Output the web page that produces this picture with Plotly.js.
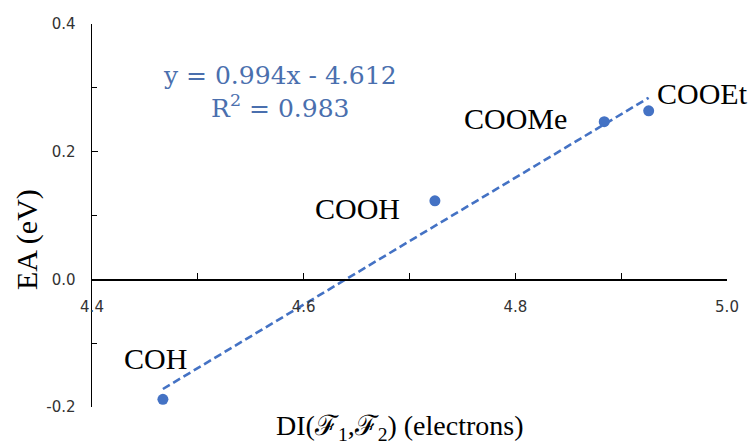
<!DOCTYPE html>
<html>
<head>
<meta charset="utf-8">
<script src="https://cdn.plot.ly/plotly-3.0.1.min.js"></script>
<style>
  html, body { margin: 0; padding: 0; background: #ffffff; }
  #chart { width: 755px; height: 448px; }
</style>
</head>
<body>
<div id="chart"></div>
<script>
// Delocalization index vs. electron affinity for each substituent
const groups = ['COH', 'COOH', 'COOMe', 'COOEt'];
const diValues = [4.467, 4.724, 4.884, 4.926];
const eaValues = [-0.188, 0.123, 0.247, 0.264];

// Linear fit reported on the chart
const fitSlope = 0.994;
const fitIntercept = -4.612;
const fitR2 = 0.983;

// Axis tick labels
const xTickVals = [4.4, 4.6, 4.8, 5.0];
const xTickText = ['4.4', '4.6', '4.8', '5.0'];
const yTickVals = [-0.2, 0.0, 0.2, 0.4];
const yTickText = ['-0.2', '0.0', '0.2', '0.4'];

const blue = '#4472C4';
const serif = '"Liberation Serif", "Times New Roman", serif';

const xMin = Math.min(...diValues);
const xMax = Math.max(...diValues);
const fitX = [xMin, xMax];
const fitY = fitX.map(v => fitSlope * v + fitIntercept);

const points = {
  x: diValues, y: eaValues, type: 'scatter', mode: 'markers',
  marker: { color: blue, size: 11 },
  hoverinfo: 'skip', showlegend: false
};
const trend = {
  x: fitX, y: fitY, type: 'scatter', mode: 'lines',
  line: { color: blue, width: 2.6, dash: '8px,4px' },
  hoverinfo: 'skip', showlegend: false
};

// Label offsets (pixels) relative to each point
const labelShift = {
  COH: [-7, 41], COOH: [-77, -8], COOMe: [-89, 3], COOEt: [54, 17]
};

const annotations = groups.map((g, i) => ({
  x: diValues[i], y: eaValues[i], xref: 'x', yref: 'y',
  text: g, showarrow: false,
  xanchor: 'center', yanchor: 'middle',
  xshift: labelShift[g][0], yshift: labelShift[g][1],
  font: { family: serif, size: 30, color: '#000000' }
}));

annotations.push({
  x: 4.578, y: 0.294, xref: 'x', yref: 'y',
  xanchor: 'center', yanchor: 'middle',
  text: 'y = ' + fitSlope.toFixed(3) + 'x - ' + Math.abs(fitIntercept).toFixed(3) +
        '<br>R<sup>2</sup> = ' + fitR2.toFixed(3),
  showarrow: false, align: 'center',
  font: { family: '"DejaVu Serif", serif', size: 25, color: '#4A6FAE' }
});

annotations.push({
  x: 27, y: 240, xref: 'paper', yref: 'paper',
  xanchor: 'center', yanchor: 'middle',
  text: 'EA (eV)', showarrow: false, textangle: -90,
  font: { family: serif, size: 30, color: '#000000' }
});
annotations.push({
  x: 400, y: 427, xref: 'paper', yref: 'paper',
  xanchor: 'center', yanchor: 'middle',
  text: 'DI(\u2131<sub>1</sub>,\u2131<sub>2</sub>) (electrons)', showarrow: false,
  font: { family: serif, size: 28, color: '#000000' }
});

const margin = { l: 92, r: 28, t: 24, b: 41 };
const plotW = 755 - margin.l - margin.r;
const plotH = 448 - margin.t - margin.b;
// convert pixel positions of the axis titles into paper coordinates
annotations.forEach(a => {
  if (a.xref === 'paper') {
    a.x = (a.x - margin.l) / plotW;
    a.y = 1 - (a.y - margin.t) / plotH;
  }
});

const tickFont = { family: '"DejaVu Sans", sans-serif', size: 15, color: '#333333' };

const layout = {
  width: 755, height: 448,
  margin: margin,
  paper_bgcolor: '#ffffff', plot_bgcolor: '#ffffff',
  showlegend: false,
  xaxis: {
    range: [4.4, 5.0], anchor: 'free', position: 1 / 3,
    showgrid: false, zeroline: false,
    showline: true, linecolor: '#000000', linewidth: 1.5,
    ticks: 'inside', ticklen: 6, tickwidth: 1.2, tickcolor: '#000000',
    tickmode: 'array', tickvals: xTickVals, ticktext: xTickText,
    minor: { dtick: 0.1, tick0: 4.4, ticks: 'inside', ticklen: 6, tickwidth: 1.2, tickcolor: '#000000', showgrid: false },
    ticklabelstandoff: 13,
    tickfont: tickFont
  },
  yaxis: {
    range: [-0.2, 0.4],
    showgrid: false, zeroline: false,
    showline: true, linecolor: '#000000', linewidth: 1.5,
    ticks: 'inside', ticklen: 6, tickwidth: 1.2, tickcolor: '#000000',
    tickmode: 'array', tickvals: yTickVals, ticktext: yTickText,
    minor: { dtick: 0.1, tick0: -0.2, ticks: 'inside', ticklen: 5, tickwidth: 1.2, tickcolor: '#000000', showgrid: false },
    ticklabelstandoff: 12,
    tickfont: tickFont
  },
  annotations: annotations
};

Plotly.newPlot('chart', [trend, points], layout, { staticPlot: true, displayModeBar: false });
</script>
</body>
</html>
